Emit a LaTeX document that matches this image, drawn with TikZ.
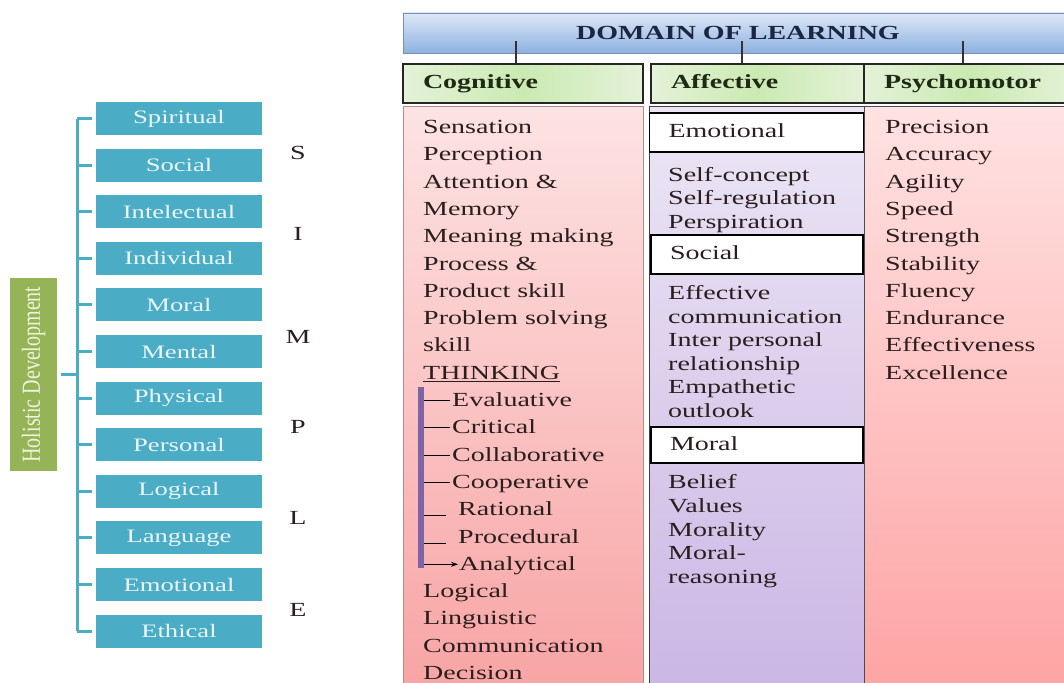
\documentclass[tikz,border=0pt]{standalone}
\usepackage{fontspec}
\usepackage{graphicx}
\setmainfont{Liberation Serif}[FakeStretch=1.4]
\newfontfamily\upright{Liberation Serif}
\usetikzlibrary{arrows.meta}

\definecolor{facetblue}{HTML}{4BACC6}
\definecolor{facettext}{HTML}{EAF6FA}
\definecolor{olivegreen}{HTML}{95B457}
\definecolor{holtext}{HTML}{EEF4DC}
\definecolor{ink}{HTML}{2A1E1E}
\definecolor{navy}{HTML}{1C2640}
\definecolor{domtop}{HTML}{DDE8F8}
\definecolor{dombot}{HTML}{8DB1E0}
\definecolor{domline}{HTML}{7890B4}
\definecolor{headpale}{HTML}{E4F2D8}
\definecolor{headmid}{HTML}{CBEAB2}
\definecolor{headink}{HTML}{1E2A14}
\definecolor{cogtop}{HTML}{FDE3E3}
\definecolor{cogbot}{HTML}{F8A2A2}
\definecolor{cogline}{HTML}{B88A8A}
\definecolor{afftop}{HTML}{ECE6F5}
\definecolor{affbot}{HTML}{CAB5E4}
\definecolor{psytop}{HTML}{FFE2E2}
\definecolor{psybot}{HTML}{FEA2A2}
\definecolor{barpurple}{HTML}{7E64A6}

\begin{document}
\begin{tikzpicture}[
    x=1pt, y=-1pt,
    facet/.style={fill=facetblue, text=facettext, minimum width=166pt, minimum height=33pt, inner sep=0pt, font=\fontsize{19}{22}\selectfont},
    holistic/.style={fill=olivegreen, text=holtext, rotate=90, minimum width=193pt, minimum height=47pt, inner sep=0pt, font=\upright\fontsize{20}{22}\selectfont},
    branch/.style={draw=facetblue, line width=3pt},
    letter/.style={text=ink, inner sep=0pt, font=\fontsize{20}{22}\selectfont},
    domainbar/.style={draw=domline, top color=domtop, bottom color=dombot, minimum width=670pt, minimum height=40pt, text=navy, font=\fontsize{20}{22}\selectfont\bfseries},
    head/.style={draw=black!85, line width=1.5pt, left color=headpale, right color=headpale, middle color=headmid, minimum height=39pt, text width=#1, text height=14pt, text depth=4pt, inner xsep=20pt, align=left, text=headink, font=\fontsize{20}{22}\selectfont\bfseries},
    tickline/.style={draw=black!80, line width=1.2pt},
    colbody/.style={draw=#1, line width=1pt, minimum height=600pt, inner sep=0pt},
    subhead/.style={draw=black, line width=1.3pt, fill=white, minimum height=39pt, text width=176pt, text height=14pt, text depth=4pt, inner xsep=19pt, align=left, text=ink, font=\fontsize{20}{22}\selectfont},
    item/.style={anchor=base west, inner sep=0pt, text height=13.5pt, text depth=1.5pt, text=ink, font=\fontsize{20}{22}\selectfont},
    thinkbar/.style={draw=barpurple, line width=6pt},
    twig/.style={draw=black, line width=1pt}
]
    \useasboundingbox (0,0) rectangle (1064,682);
    \clip (0,0) rectangle (1064,682);
    \fill[white] (0,0) rectangle (1064,682);

    % Holistic development
    \node[holistic] (hd) at (33.5,374.5) {\scalebox{1}[1.3]{Holistic Development}};
    \foreach \name [count=\i] in {Spiritual, Social, Intelectual, Individual, Moral, Mental,
                                  Physical, Personal, Logical, Language, Emotional, Ethical}
        \node[facet] (f\i) at (179, 71.9+46.6*\i) {\name};
    \coordinate (trunk) at (77,374.5);
    \draw[branch, shorten <=4pt] (hd.south) -- (trunk);
    \draw[branch] (trunk |- f1.west) -- (trunk |- f12.west);
    \foreach \i in {1,...,12}
        \draw[branch, shorten >=4pt] (trunk |- f\i.west) -- (f\i.west);
    \foreach \l/\y in {S/153, I/234, M/337, P/427, L/518, E/610}
        \node[letter] (l\l) at (298,\y) {\l};

    % Columns
    \node[colbody=cogline, top color=cogtop, bottom color=cogbot, minimum width=240pt] (cogbody) at (523,407) {};
    \node[colbody=black!75, top color=afftop, bottom color=affbot, minimum width=215pt] (affbody) at (756.5,407) {};
    \node[colbody=black!70, top color=psytop, bottom color=psybot, minimum width=211pt] (psybody) at (969.5,407) {};

    % Domain of learning
    \node[domainbar] (dom) at (738,33) {DOMAIN OF LEARNING};
    \node[head=200pt] (cog) at (523,83.5) {Cognitive};
    \node[head=173pt] (aff) at (757.5,83.5) {Affective};
    \node[head=171pt] (psy) at (969.5,83.5) {Psychomotor};
    \draw[tickline] ([xshift=-7pt]cog.north) -- ++(0,-22);
    \draw[tickline] ([xshift=-15.5pt]aff.north) -- ++(0,-22);
    \draw[tickline] ([xshift=-6.5pt]psy.north) -- ++(0,-22);

    % Cognitive
    \foreach \i/\t in {0/Sensation, 1/Perception, 2/Attention \&, 3/Memory, 4/Meaning making,
                       5/Process \&, 6/Product skill, 7/Problem solving, 8/skill, 9/\underline{THINKING},
                       17/Logical, 18/Linguistic, 19/Communication, 20/Decision}
        \node[item] (c\i) at (423, 133.5+27.3*\i) {\t};
    \foreach \i/\t/\x in {10/Evaluative/452, 11/Critical/452, 12/Collaborative/452, 13/Cooperative/452,
                          14/Rational/458, 15/Procedural/458, 16/Analytical/459}
        \node[item] (c\i) at (\x, 133.5+27.3*\i) {\t};
    \coordinate (bartop) at (421,387);
    \coordinate (barbot) at (421,568);
    \coordinate (barside) at (424,0);
    \draw[thinkbar] (bartop) -- (barbot);
    \foreach \i in {10,...,13}
        \draw[twig, shorten >=2pt] (barside |- c\i.west) -- (c\i.west);
    \foreach \i in {14,15}
        \draw[twig] (barside |- c\i.base) -- ++(22,0);
    \draw[twig, -{Stealth[length=7pt, width=5pt]}, shorten >=1pt] (barside |- c16.west) -- (c16.west);

    % Affective
    \node[subhead, text width=176pt] (emo) at (756.5,132.5) {Emotional};
    \node[subhead, text width=174pt] (soc) at (757,254.5) {Social};
    \node[subhead, text width=174pt, minimum height=36pt] (mor) at (757,445) {Moral};
    \foreach \t/\y [count=\i] in {Self-concept/175, Self-regulation/198.3, Perspiration/221.6,
                                  Effective/293, communication/316.6, Inter personal/340.2,
                                  relationship/363.8, Empathetic/387.4, outlook/411,
                                  Belief/482, Values/505.8, Morality/529.6, Moral-/553.4, reasoning/577.2}
        \node[item] (a\i) at (668, \y+6.5) {\t};

    % Psychomotor
    \foreach \t [count=\i from 0] in {Precision, Accuracy, Agility, Speed, Strength, Stability,
                                      Fluency, Endurance, Effectiveness, Excellence}
        \node[item] (p\i) at (885, 133.5+27.3*\i) {\t};
\end{tikzpicture}
\end{document}
